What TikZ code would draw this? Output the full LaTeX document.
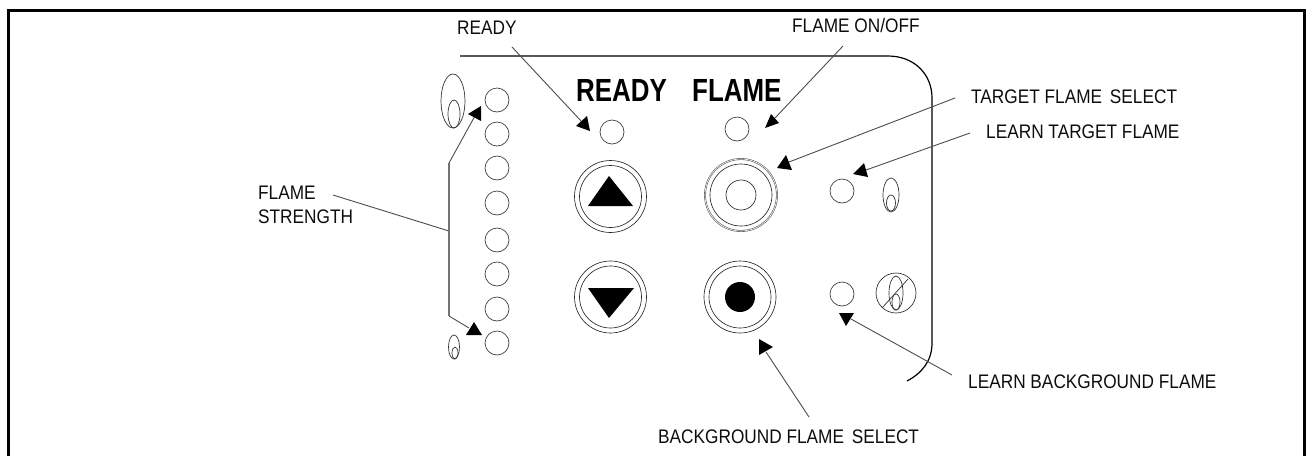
\documentclass[tikz,border=0pt]{standalone}
\usepackage{fontspec}
\setmainfont{Liberation Sans}
\newfontfamily\lblfont[FakeStretch=0.88]{Liberation Sans}
\newfontfamily\bigfont[FakeStretch=0.81]{Liberation Sans Bold}
\tikzset{
  x=1pt,y=-1pt,
  lbl/.style={anchor=base west,inner sep=0pt,font=\lblfont\fontsize{19.6}{19.6}\selectfont,text=black!95},
  biglbl/.style={anchor=base west,inner sep=0pt,font=\bigfont\fontsize{32}{32}\selectfont},
  led/.style={circle,draw=black!75,line width=0.7pt,minimum size=24pt,inner sep=0pt},
  ring/.style={circle,draw=black!85,line width=0.65pt,inner sep=0pt},
  oval/.style={draw=black!80,line width=0.7pt},
  leader/.style={draw=black!70,line width=0.9pt},
  thickleader/.style={draw=black!55,line width=1.6pt},
  head/.style={fill=black},
  panel/.style={draw=black,line width=1.2pt},
  frame/.style={draw=black,line width=3pt},
}
\begin{document}
\begin{tikzpicture}
\useasboundingbox (0,0) rectangle (1307,456);
% frame, open at the bottom
\draw[frame] (8,456) -- (8,10) -- (1304.5,10) -- (1304.5,456);
% panel outline
\draw[panel] (460,56) -- (888,56) .. controls (914,56) and (932,74) .. (932,98)
  -- (932,343) .. controls (932,361) and (922,373) .. (907,381);
% LED column
\foreach \i/\y in {1/100,2/134,3/168,4/203,5/240,6/274,7/309,8/343}
  \node[led] (s\i) at (497,\y) {};
% LEDs
\node[led] (ready) at (612,132) {};
\node[led] (flame) at (737,129) {};
\node[led] (learnT) at (842,191) {};
\node[led] (learnB) at (842,294) {};
% buttons
\node[ring,minimum size=72pt] (up) at (610.5,196.5) {};
\node[ring,minimum size=62pt] (upin) at (up) {};
\node[ring,minimum size=72pt] (down) at (610.5,297) {};
\node[ring,minimum size=62pt] (downin) at (down) {};
\fill (609,176) -- (633,206) -- (588,206) -- cycle;
\fill (609,318) -- (634,288) -- (588,288) -- cycle;
\node[ring,minimum size=72pt,draw=black!65,double=white,double distance=0.6pt,line width=0.6pt] (target) at (741,195) {};
\node[ring,minimum size=62pt] (targetin) at (target) {};
\node[ring,minimum size=30pt] (targetcap) at (target) {};
\node[ring,minimum size=72pt] (bkg) at (740,297) {};
\node[ring,minimum size=62pt] (bkgin) at (bkg) {};
\node[circle,fill=black,minimum size=30pt,inner sep=0pt] (bkgcap) at (bkg) {};
% ovals
\draw[oval] (453,101) ellipse [x radius=12,y radius=27];
\draw[oval] (454,114) ellipse [x radius=6,y radius=14];
\draw[oval] (454,347) ellipse [x radius=5.5,y radius=12];
\draw[oval] (455,353) ellipse [x radius=3,y radius=6];
\draw[oval] (891,195) ellipse [x radius=8,y radius=17];
\draw[oval] (891,203) ellipse [x radius=4.5,y radius=8];
\node[ring,minimum size=40pt] (knob) at (896,293) {};
\draw[oval] (896,293) ellipse [x radius=7,y radius=17];
\draw[oval] (896,302) ellipse [x radius=4,y radius=8];
\draw[oval] (882,308) -- (908,279);
% labels
\node[biglbl] (bigready) at (576,101) {READY};
\node[biglbl] (bigflame) at (692,101) {FLAME};
\node[lbl] (lready) at (457,34) {READY};
\node[lbl] (lflame) at (792,32) {FLAME ON/OFF};
\node[lbl] (ltarget) at (971,103) {TARGET FLAME\hspace{3pt} SELECT};
\node[lbl] (llearnT) at (986,138) {LEARN TARGET FLAME};
\node[lbl] (llearnB) at (968,388) {LEARN BACKGROUND FLAME};
\node[lbl] (lbkg) at (658,443) {BACKGROUND FLAME\hspace{3pt} SELECT};
\node[lbl] (lstr1) at (258,199) {FLAME};
\node[lbl] (lstr2) at (258,223) {STRENGTH};
% connector ends
\coordinate (a1) at (512,47);   \coordinate (t1) at (582,122);
\coordinate (a2) at (843,46);   \coordinate (t2) at (775,118);
\coordinate (a3) at (955,98);   \coordinate (t3) at (789,162);
\coordinate (a4) at (970,133);  \coordinate (t4) at (866,170);
\coordinate (a5) at (952,375);  \coordinate (t5) at (851,319);
\coordinate (a6) at (809,417);  \coordinate (t6) at (766,352);
\coordinate (a7) at (333,195);  \coordinate (j0) at (449,231);
\coordinate (j1) at (449,163);  \coordinate (t7) at (476,114);
\coordinate (j2) at (449,316);  \coordinate (t8) at (469,328);
\draw[leader] (a1) -- (t1);
\draw[leader] (a2) -- (t2);
\draw[leader] (a3) -- (t3);
\draw[leader] (a4) -- (t4);
\draw[leader] (a5) -- (t5);
\draw[leader] (a6) -- (t6);
\draw[leader] (a7) -- (j0);
\draw[thickleader] (j1) -- (j2);
\draw[leader] (j1) -- (t7);
\draw[leader] (j2) -- (t8);
% arrowheads
\fill[head] (590,131) -- (576,126) -- (587,116) -- cycle;
\fill[head] (765,128) -- (779,123) -- (771,114) -- cycle;
\fill[head] (777,168) -- (786,155) -- (792,170) -- cycle;
\fill[head] (853,174) -- (864,163) -- (868,177) -- cycle;
\fill[head] (839,313) -- (854,313) -- (846,326) -- cycle;
\fill[head] (759,339) -- (773,347) -- (759,355) -- cycle;
\fill[head] (468,114) -- (481,106) -- (481,121) -- cycle;
\fill[head] (474,322) -- (482,335) -- (466,335) -- cycle;
\end{tikzpicture}
\end{document}
